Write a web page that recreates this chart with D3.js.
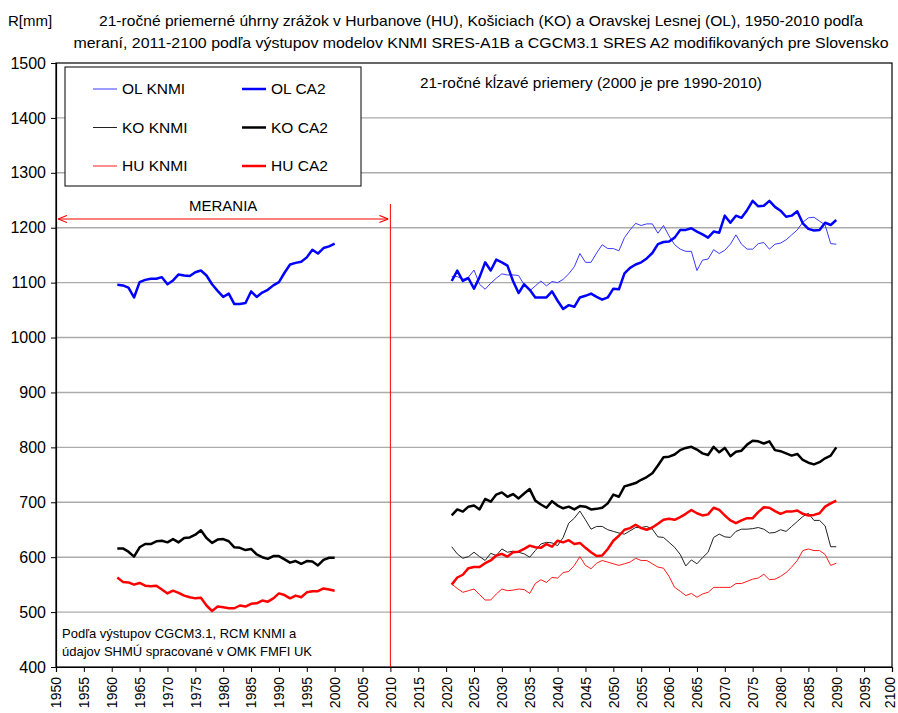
<!DOCTYPE html>
<html>
<head>
<meta charset="utf-8">
<script src="https://cdn.jsdelivr.net/npm/d3@7"></script>
<style>
  body { margin: 0; background: #fff; }
  svg { font-family: "Liberation Sans", Arial, sans-serif; }
</style>
</head>
<body>
<svg id="chart" width="898" height="713"></svg>
<script>
const measYears = d3.range(1961, 2001);
const projYears = d3.range(2021, 2091);

const olMeas = [1096, 1095, 1091, 1073, 1101, 1105, 1107, 1107, 1110, 1097, 1104, 1115, 1113, 1112, 1119, 1122, 1113, 1097, 1085, 1074,
  1080, 1061, 1061, 1063, 1084, 1074, 1082, 1087, 1095, 1101, 1118, 1133, 1136, 1138, 1146, 1160, 1153, 1163, 1166, 1171];
const koMeas = [616, 616, 610, 601, 618, 624, 624, 629, 630, 627, 633, 627, 635, 636, 641, 649, 635, 626, 632, 633,
  629, 618, 617, 613, 615, 605, 600, 597, 602, 602, 596, 590, 593, 588, 593, 592, 585, 595, 599, 599];
const huMeas = [563, 555, 554, 550, 553, 548, 547, 548, 541, 534, 539, 535, 530, 527, 525, 526, 512, 502, 510, 509,
  507, 507, 512, 510, 515, 516, 521, 519, 525, 534, 531, 525, 530, 527, 536, 538, 538, 543, 541, 539];

const olCa2 = [1103, 1122, 1103, 1108, 1089, 1110, 1137, 1122, 1142, 1137, 1131, 1103, 1081, 1097, 1087, 1073, 1073, 1073, 1084, 1067,
  1052, 1059, 1056, 1073, 1076, 1080, 1074, 1069, 1073, 1089, 1088, 1117, 1127, 1133, 1137, 1144, 1154, 1170, 1174, 1175,
  1182, 1196, 1196, 1199, 1193, 1188, 1182, 1193, 1191, 1222, 1209, 1222, 1218, 1232, 1249, 1239, 1240, 1249, 1238, 1231,
  1220, 1222, 1230, 1208, 1198, 1195, 1196, 1209, 1205, 1214];
const olKnmi = [1111, 1111, 1106, 1110, 1123, 1097, 1088, 1099, 1108, 1116, 1114, 1114, 1113, 1096, 1085, 1094, 1103, 1094, 1102, 1100,
  1106, 1116, 1129, 1153, 1137, 1137, 1154, 1169, 1162, 1162, 1158, 1182, 1196, 1208, 1204, 1207, 1207, 1190, 1204, 1185,
  1169, 1161, 1157, 1157, 1122, 1141, 1143, 1160, 1153, 1159, 1170, 1187, 1170, 1161, 1161, 1171, 1173, 1161, 1170, 1172,
  1178, 1187, 1196, 1210, 1218, 1219, 1212, 1205, 1171, 1170];
const koCa2 = [676, 687, 683, 692, 694, 687, 706, 701, 714, 718, 710, 715, 707, 716, 724, 703, 696, 690, 702, 694,
  689, 692, 687, 693, 692, 687, 688, 690, 698, 714, 710, 729, 732, 735, 741, 746, 753, 767, 782, 783,
  787, 795, 799, 801, 796, 789, 786, 801, 791, 799, 784, 792, 794, 805, 812, 811, 807, 811, 795, 793,
  789, 785, 788, 777, 772, 769, 773, 780, 785, 800];
const koKnmi = [619, 606, 598, 601, 609, 601, 594, 607, 603, 615, 609, 611, 609, 606, 600, 612, 624, 627, 626, 621,
  636, 662, 671, 684, 668, 651, 656, 656, 650, 647, 644, 642, 648, 654, 654, 656, 651, 637, 636, 627,
  618, 605, 584, 595, 588, 599, 609, 636, 642, 637, 636, 647, 651, 651, 652, 654, 651, 644, 645, 650,
  647, 656, 665, 674, 680, 667, 667, 657, 619, 619];
const huCa2 = [550, 563, 568, 580, 582, 582, 589, 594, 603, 606, 601, 609, 610, 615, 621, 618, 617, 624, 619, 630,
  627, 631, 624, 626, 617, 609, 602, 603, 615, 630, 639, 650, 653, 659, 653, 650, 654, 661, 668, 670,
  668, 673, 679, 686, 680, 676, 678, 690, 686, 676, 667, 662, 667, 671, 671, 682, 691, 690, 684, 679,
  683, 683, 685, 679, 676, 677, 680, 692, 698, 703];
const huKnmi = [551, 543, 536, 539, 542, 532, 522, 522, 533, 542, 539, 540, 542, 541, 534, 552, 559, 554, 563, 562,
  572, 574, 585, 601, 585, 579, 589, 594, 591, 588, 585, 588, 591, 598, 594, 594, 588, 582, 580, 565,
  545, 538, 530, 534, 527, 533, 536, 545, 545, 545, 545, 552, 552, 556, 560, 562, 569, 559, 560, 565,
  572, 582, 594, 612, 615, 612, 612, 605, 585, 589];

const yTicks = d3.range(400, 1501, 100);
const xTicks = d3.range(1950, 2101, 5);
const legendItems = [
  { name: "OL KNMI", color: "#3a3aff", width: 1 },
  { name: "OL CA2", color: "#0000ff", width: 2.5 },
  { name: "KO KNMI", color: "#222", width: 1 },
  { name: "KO CA2", color: "#000", width: 2.5 },
  { name: "HU KNMI", color: "#ff1a1a", width: 1 },
  { name: "HU CA2", color: "#ff0000", width: 2.5 },
];
const titleLines = [
  "21-ročné  priemerné úhrny zrážok v Hurbanove (HU), Košiciach (KO) a Oravskej Lesnej (OL), 1950-2010 podľa",
  "meraní, 2011-2100 podľa výstupov modelov KNMI SRES-A1B a CGCM3.1 SRES A2 modifikovaných pre Slovensko",
];
const noteLines = ["Podľa výstupov CGCM3.1, RCM KNMI a", "údajov SHMÚ spracované v OMK FMFI UK"];

(function () {
  const svg = d3.select("#chart");
  const left = 56, top = 63, right = 892, bottom = 667;
  const x = d3.scaleLinear().domain([1950, 2100]).range([left, right]);
  const y = d3.scaleLinear().domain([400, 1500]).range([bottom, top]);

  svg.append("g")
    .selectAll("line")
    .data(yTicks.filter((t) => t > 400 && t < 1500))
    .join("line")
    .attr("x1", left).attr("x2", right)
    .attr("y1", (t) => y(t)).attr("y2", (t) => y(t))
    .attr("stroke", "#ababab")
    .attr("stroke-width", 1.4);

  svg.append("rect")
    .attr("x", left).attr("y", top)
    .attr("width", right - left).attr("height", bottom - top)
    .attr("fill", "none").attr("stroke", "#000").attr("stroke-width", 1.2);

  const yAxis = svg.append("g")
    .attr("transform", `translate(${left},0)`)
    .call(d3.axisLeft(y).tickValues(yTicks).tickSize(5).tickFormat(d3.format("d")));
  yAxis.select(".domain").attr("stroke-width", 1.2);
  yAxis.selectAll("text").attr("font-size", 16).attr("fill", "#000").attr("x", -10);

  const xAxis = svg.append("g")
    .attr("transform", `translate(0,${bottom})`)
    .call(d3.axisBottom(x).tickValues(xTicks).tickSize(5).tickFormat(d3.format("d")));
  xAxis.select(".domain").attr("stroke-width", 1.2);
  xAxis.selectAll("text")
    .attr("font-size", 14)
    .attr("fill", "#000")
    .attr("transform", "rotate(-90)")
    .attr("text-anchor", "end")
    .attr("x", -10)
    .attr("y", (d) => (d === 2100 ? -2.5 : 0))
    .attr("dy", "0.35em");

  // measured vs. model divider
  svg.append("line")
    .attr("x1", x(2010)).attr("x2", x(2010))
    .attr("y1", 204).attr("y2", bottom)
    .attr("stroke", "#ff0000").attr("stroke-width", 1);

  const defs = svg.append("defs");
  ["start", "end"].forEach(function (id) {
    defs.append("marker")
      .attr("id", `arrow-${id}`)
      .attr("viewBox", "0 0 10 10")
      .attr("refX", id === "end" ? 10 : 0).attr("refY", 5)
      .attr("markerWidth", 9).attr("markerHeight", 9)
      .attr("markerUnits", "userSpaceOnUse")
      .attr("orient", "auto")
      .append("path")
      .attr("d", id === "end" ? "M0,1 L10,5 L0,9" : "M10,1 L0,5 L10,9")
      .attr("fill", "none")
      .attr("stroke", "#ff0000")
      .attr("stroke-width", 1.2);
  });
  svg.append("line")
    .attr("x1", x(1950) + 2).attr("x2", x(2010) - 2)
    .attr("y1", 219).attr("y2", 219)
    .attr("stroke", "#ff0000").attr("stroke-width", 1)
    .attr("marker-start", "url(#arrow-start)")
    .attr("marker-end", "url(#arrow-end)");
  svg.append("text")
    .attr("x", (x(1950) + x(2010)) / 2).attr("y", 211)
    .attr("text-anchor", "middle").attr("font-size", 15)
    .text("MERANIA");

  const line = d3.line()
    .x((d) => x(d[0]))
    .y((d) => y(d[1]));
  const series = [
    { years: measYears, values: olMeas, color: "#0000ff", width: 2.5 },
    { years: measYears, values: koMeas, color: "#000", width: 2.5 },
    { years: measYears, values: huMeas, color: "#ff0000", width: 2.5 },
    { years: projYears, values: olKnmi, color: "#3a3aff", width: 1 },
    { years: projYears, values: koKnmi, color: "#222", width: 1 },
    { years: projYears, values: huKnmi, color: "#ff1a1a", width: 1 },
    { years: projYears, values: olCa2, color: "#0000ff", width: 2.5 },
    { years: projYears, values: koCa2, color: "#000", width: 2.5 },
    { years: projYears, values: huCa2, color: "#ff0000", width: 2.5 },
  ];
  svg.append("g")
    .selectAll("path")
    .data(series)
    .join("path")
    .attr("d", (s) => line(s.years.map((yr, i) => [yr, s.values[i]])))
    .attr("fill", "none")
    .attr("stroke", (s) => s.color)
    .attr("stroke-width", (s) => s.width)
    .attr("stroke-linejoin", "round");

  const legend = svg.append("g");
  legend.append("rect")
    .attr("x", 65).attr("y", 67).attr("width", 296).attr("height", 119)
    .attr("fill", "#fff").attr("stroke", "#000").attr("stroke-width", 1);
  const entry = legend.selectAll("g.entry")
    .data(legendItems)
    .join("g")
    .attr("class", "entry")
    .attr("transform", (d, i) => `translate(${i % 2 ? 242 : 93},${89 + Math.floor(i / 2) * 38.5})`);
  entry.append("line")
    .attr("x1", 0).attr("x2", 24)
    .attr("stroke", (d) => d.color)
    .attr("stroke-width", (d) => d.width);
  entry.append("text")
    .attr("x", 29).attr("dy", "0.35em")
    .attr("font-size", 15.5)
    .text((d) => d.name);

  svg.append("text")
    .attr("x", 8).attr("y", 26)
    .attr("font-size", 15)
    .text("R[mm]");
  svg.append("g")
    .selectAll("text")
    .data(titleLines)
    .join("text")
    .attr("x", 481).attr("y", (d, i) => 26 + i * 22)
    .attr("text-anchor", "middle")
    .attr("font-size", 15)
    .attr("textLength", (d, i) => (i ? 815 : 764))
    .attr("lengthAdjust", "spacingAndGlyphs")
    .text((d) => d);

  svg.append("text")
    .attr("x", 591).attr("y", 88)
    .attr("text-anchor", "middle")
    .attr("font-size", 14.5)
    .attr("textLength", 342)
    .attr("lengthAdjust", "spacingAndGlyphs")
    .text("21-ročné kĺzavé priemery (2000 je pre 1990-2010)");

  svg.append("g")
    .selectAll("text")
    .data(noteLines)
    .join("text")
    .attr("x", 62).attr("y", (d, i) => 638 + i * 18)
    .attr("font-size", 13)
    .text((d) => d);
})();
</script>
</body>
</html>
